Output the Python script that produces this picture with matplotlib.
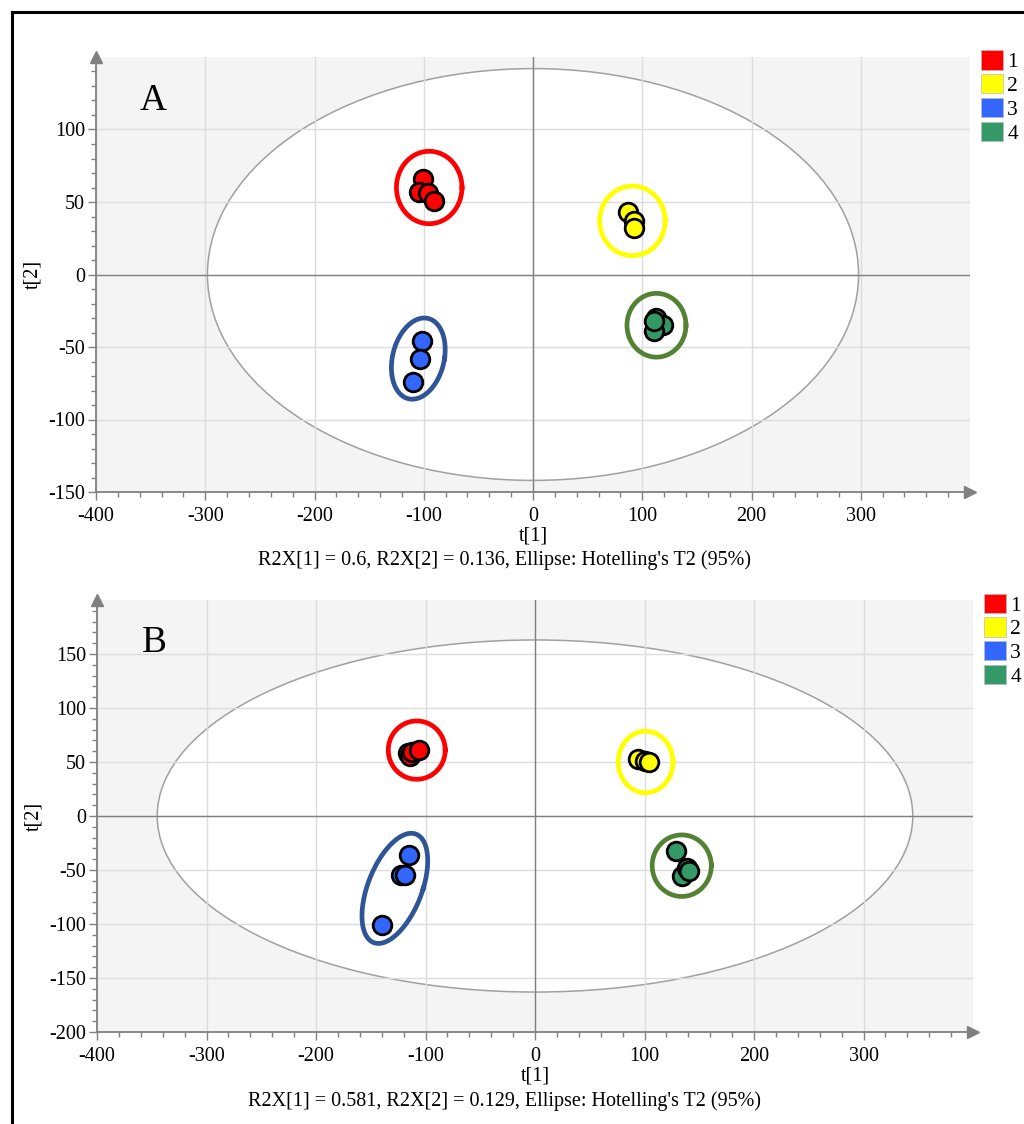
import numpy as np
import matplotlib
matplotlib.use("Agg")
import matplotlib.pyplot as plt
from matplotlib.patches import Ellipse, Patch
from matplotlib.lines import Line2D

plt.rcParams["font.family"] = ["Liberation Serif", "DejaVu Serif"]
plt.rcParams["axes.unicode_minus"] = False

# ---------------------------------------------------------------- data
labels = ["1", "2", "3", "4"]
face = ["#ff0000", "#ffff00", "#3366ff", "#339966"]
ring = ["#ff0000", "#ffff00", "#2f5597", "#548235"]

# panel A scores, one list per group
a_t1 = [[-101, -104, -96, -91], [87, 92, 92], [-102, -103, -110], [113, 119, 111, 111]]
a_t2 = [[66, 57, 56, 51], [43, 37, 32], [-46, -58, -74], [-30, -35, -39, -32]]
# panel B scores
b_t1 = [[-116, -114, -112, -106], [94, 100, 104], [-115, -122, -119, -140], [129, 134, 139, 141]]
b_t2 = [[58, 56, 59, 61], [53, 51, 50], [-36, -55, -55, -101], [-32, -56, -48, -51]]

# group rings: centre, half sizes, x shift of the top point (tilt)
a_ring_cx = [-95, 91, -105, 113]
a_ring_cy = [60, 37, -58, -35]
a_ring_rx = [30, 30, 24, 27]
a_ring_ry = [25, 24, 28, 22]
a_ring_tilt = [0, 0, 5.5, 0]
b_ring_cx = [-108, 101, -128, 134]
b_ring_cy = [61, 50, -67, -46]
b_ring_rx = [26, 25, 26, 27]
b_ring_ry = [27, 28.5, 51, 28.5]
b_ring_tilt = [0, 0, 15, 0]

# Hotelling's T2 ellipse half axes
a_t2_ell = (298, 142)
b_t2_ell = (345, 163)

a_caption = "R2X[1] = 0.6, R2X[2] = 0.136, Ellipse: Hotelling's T2 (95%)"
b_caption = "R2X[1] = 0.581, R2X[2] = 0.129, Ellipse: Hotelling's T2 (95%)"

GRIS = "#808080"
FS = 14.5

fig = plt.figure(figsize=(10.24, 11.24), dpi=100)

# frame around the figure (left and top only are visible)
fig.add_artist(Line2D([12/1024, 12/1024], [0, 1 - 12/1124], color="black", lw=2.2))
fig.add_artist(Line2D([12/1024, 1], [1 - 12/1124, 1 - 12/1124], color="black", lw=2.2))


def painel(rect, t1, t2, cx, cy, rx, ry, tilt, t2ell, ylim, yticks, letra, caption, cap_y):
    ax = fig.add_axes(rect)
    ax.set_facecolor("#f4f4f4")
    ax.set_xlim(-400, 400)
    ax.set_ylim(*ylim)
    ax.set_xticks(np.arange(-400, 301, 100))
    ax.set_yticks(yticks)
    ax.set_xticks(np.arange(-400, 400, 20), minor=True)
    ax.set_yticks(np.arange(ylim[0], ylim[1], 10), minor=True)
    ax.set_axisbelow(True)
    ax.grid(True, which="major", color="#dcdcdc", lw=1)
    for s in ("top", "right"):
        ax.spines[s].set_visible(False)
    for s in ("left", "bottom"):
        ax.spines[s].set_color(GRIS)
        ax.spines[s].set_linewidth(1.3)
    ax.tick_params(which="both", colors=GRIS, labelcolor="black", labelsize=FS, pad=2)
    ax.tick_params(axis="x", which="major", pad=5)
    ax.tick_params(which="major", length=6, width=1)
    ax.tick_params(which="minor", length=3.5, width=1)
    ax.plot(1, 0, ">", color=GRIS, ms=9, transform=ax.transAxes, clip_on=False)
    ax.plot(0, 1, "^", color=GRIS, ms=9, transform=ax.transAxes, clip_on=False)

    ax.add_patch(Ellipse((0, 0), 2 * t2ell[0], 2 * t2ell[1], fc="white", ec="#a0a0a0",
                         lw=1.1, zorder=0.2))
    ax.axhline(0, color=GRIS, lw=1, zorder=1)
    ax.axvline(0, color=GRIS, lw=1, zorder=1)

    t = np.linspace(0, 2 * np.pi, 200)
    for g in range(4):
        ax.plot(cx[g] + rx[g] * np.cos(t) + tilt[g] * np.sin(t),
                cy[g] + ry[g] * np.sin(t), color=ring[g], lw=3.4, zorder=2)
        ax.scatter(t1[g], t2[g], s=180, c=face[g], edgecolors="black",
                   linewidths=2, zorder=3)

    ax.text(0.065, 0.9, letra, transform=ax.transAxes, fontsize=27, ha="center", va="center")
    ax.set_xlabel("t[1]", fontsize=FS, labelpad=0)
    ax.set_ylabel("t[2]", fontsize=FS, labelpad=4)
    fig.text(505/1024, cap_y, caption, fontsize=FS, ha="center", va="center")

    handles = [Patch(fc=face[g], ec="#bbbbbb", lw=0.5) for g in range(4)]
    ax.legend(handles, labels, loc="upper left", bbox_to_anchor=(1.013, 1.015), frameon=False,
              fontsize=15.5, handlelength=1.0, handleheight=1.0, handletextpad=0.2,
              labelspacing=0.08, borderaxespad=0, borderpad=0)
    return ax


painel([96/1024, 1 - 492/1124, 874/1024, 435/1124], a_t1, a_t2,
       a_ring_cx, a_ring_cy, a_ring_rx, a_ring_ry, a_ring_tilt, a_t2_ell,
       (-150, 150), np.arange(-150, 101, 50), "A", a_caption, 1 - 560/1124)

painel([97/1024, 1 - 1032/1124, 876/1024, 432/1124], b_t1, b_t2,
       b_ring_cx, b_ring_cy, b_ring_rx, b_ring_ry, b_ring_tilt, b_t2_ell,
       (-200, 200), np.arange(-200, 151, 50), "B", b_caption, 1 - 1101/1124)

fig.savefig("out.png", dpi=100)
